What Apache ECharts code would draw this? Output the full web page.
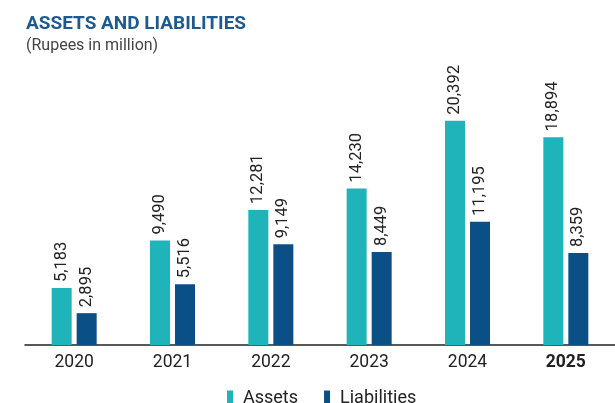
<!DOCTYPE html>
<html>
<head>
<meta charset="utf-8">
<script src="https://cdn.jsdelivr.net/npm/echarts@6/dist/echarts.min.js"></script>
<style>
  html, body { margin: 0; padding: 0; background: #fff; }
  #main { width: 615px; height: 403px; }
</style>
</head>
<body>
<div id="main"></div>
<script>
// 数据
let years = ['2020', '2021', '2022', '2023', '2024', '2025']
let assets = [5183, 9490, 12281, 14230, 20392, 18894]
let liabilities = [2895, 5516, 9149, 8449, 11195, 8359]

let TEAL = '#1fb3ba'
let NAVY = '#0b4f87'

let myChart = echarts.init(document.getElementById('main'))

let labelStyle = {
    show: true,
    position: 'top',
    rotate: 90,
    align: 'left',
    verticalAlign: 'middle',
    distance: 6,
    fontFamily: 'Roboto',
    fontSize: 16.5,
    color: '#222',
    formatter: function (p) {
        return p.value.toLocaleString('en-US')
    }
}

myChart.setOption({
    animation: false,
    textStyle: { fontFamily: 'Roboto' },
    title: {
        text: 'ASSETS AND LIABILITIES',
        subtext: '(Rupees in million)',
        left: 21,
        top: 10,
        itemGap: 4,
        textStyle: { fontFamily: 'Roboto', fontSize: 19, fontWeight: 'bold', color: '#1d5a92' },
        subtextStyle: { fontFamily: 'Roboto', fontSize: 16, color: '#444' }
    },
    legend: {
        bottom: -9,
        left: 222,
        itemWidth: 6,
        itemHeight: 15,
        itemGap: 26,
        icon: 'rect',
        textStyle: { fontFamily: 'Roboto', fontSize: 18, color: '#222', padding: [0, 0, 0, 5] },
        data: ['Assets', 'Liabilities']
    },
    grid: {
        left: 25,
        top: 81,
        width: 598,
        height: 264
    },
    xAxis: {
        type: 'category',
        data: years,
        axisTick: { show: false },
        axisLine: { lineStyle: { color: '#222', width: 1.5 } },
        axisLabel: {
            fontFamily: 'Roboto',
            fontSize: 17.5,
            color: '#222',
            margin: 9,
            formatter: function (v) {
                return v === '2025' ? '{b|' + v + '}' : v
            },
            rich: { b: { fontFamily: 'Roboto', fontSize: 17.5, fontWeight: 'bold', color: '#222' } }
        }
    },
    yAxis: {
        type: 'value',
        min: 0,
        max: 24000,
        show: false,
        splitLine: { show: false }
    },
    series: [
        {
            name: 'Assets',
            type: 'bar',
            data: assets,
            barWidth: 20,
            barGap: '25%',
            itemStyle: { color: TEAL },
            label: labelStyle
        },
        {
            name: 'Liabilities',
            type: 'bar',
            data: liabilities,
            barWidth: 20,
            itemStyle: { color: NAVY },
            label: labelStyle
        }
    ]
})
</script>
</body>
</html>
